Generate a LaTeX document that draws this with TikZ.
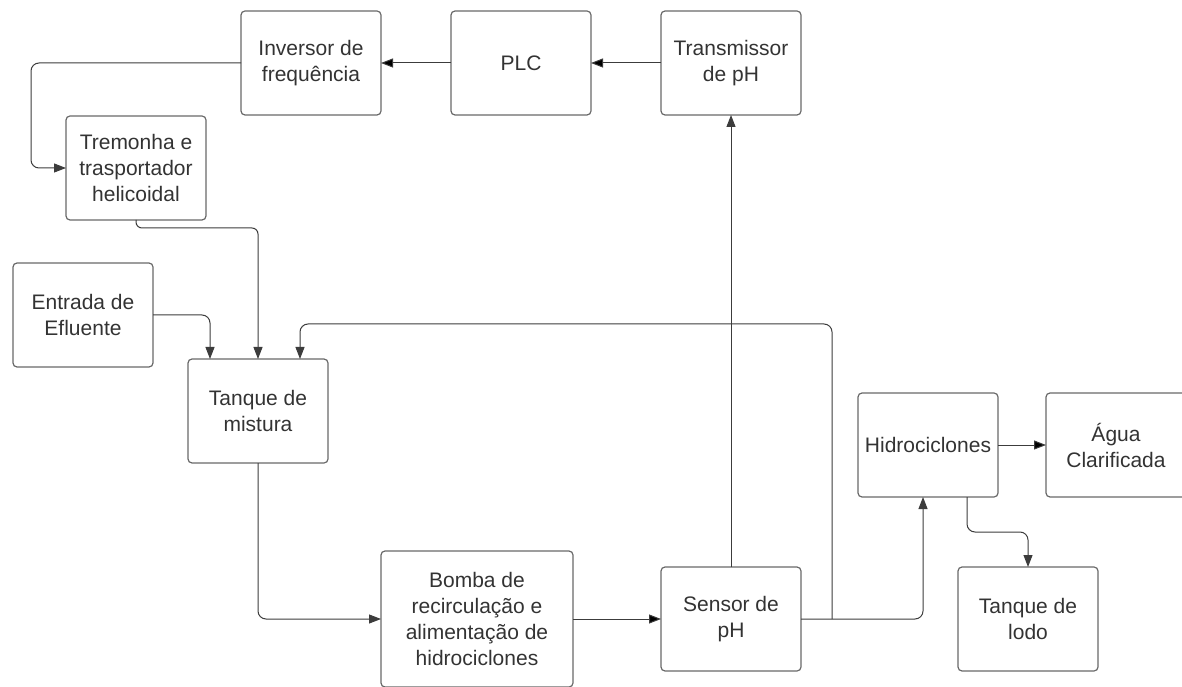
\documentclass[tikz,border=0pt]{standalone}
\usepackage{fontspec}
\setmainfont{Liberation Sans}
\usepackage{tikz}
\usetikzlibrary{positioning,arrows.meta}
\definecolor{boxgray}{RGB}{105,105,105}
\definecolor{linegray}{RGB}{60,60,60}
\definecolor{textgray}{RGB}{51,51,51}
\tikzstyle{block} = [rectangle, rounded corners=4pt, draw=boxgray, line width=1.2pt, fill=none, text=textgray, align=center, font=\fontsize{21}{26}\selectfont, minimum width=140pt, minimum height=104pt, inner sep=0pt, outer sep=0pt]
\tikzstyle{flow}  = [draw=linegray, line width=1pt, rounded corners=8pt, >={Triangle[length=12pt,width=9pt]}, ->]

\begin{document}
\begin{tikzpicture}[auto]
\useasboundingbox (0,0) rectangle (1182pt,686pt);

% blocks =============================
\node[block] (inv) at (311pt,623pt) {Inversor de\\frequência};
\node[block, right=70pt of inv] (plc) {PLC};
\node[block, right=70pt of plc] (trans) {Transmissor\\de pH};

\node[block, below left=1pt and 35pt of inv] (trem) {Tremonha e\\trasportador\\helicoidal};
\node[block, below=43pt of trem, xshift=-53pt] (ent) {Entrada de\\Efluente};
\node[block, right=35pt of ent, yshift=-96pt] (tanq) {Tanque de\\mistura};

\node[block, minimum width=192pt, minimum height=136pt, below right=88pt and 53pt of tanq] (bomba) {Bomba de\\recirculação e\\alimentação de\\hidrociclones};
\node[block, right=88pt of bomba] (sensor) {Sensor de\\pH};

\node[block, above right=70pt and 57pt of sensor] (hidro) {Hidrociclones};
\node[block, right=48pt of hidro] (agua) {Água\\Clarificada};
\node[block, below=70pt of hidro, xshift=100pt] (lodo) {Tanque de\\lodo};

\coordinate (split) at ([xshift=31pt]sensor.east);

% control loop
\path[flow] (trans) edge (plc);
\path[flow] (plc) edge (inv);
\draw[flow] (inv.west) -- ++(-210pt,0) |- (trem.west);
\draw[flow] (sensor.north) -- (trans.south);

% feed to mixing tank
\draw[flow, rounded corners=6pt] (trem.south) -- ++(0,-8pt) -| (tanq.north);
\draw[flow] (ent.east) -| ([xshift=-48pt]tanq.north);
\draw[flow] (split) -- ++(0,295pt) -| ([xshift=42pt]tanq.north);

% process line
\draw[flow] (tanq.south) |- (bomba.west);
\path[flow] (bomba) edge (sensor);
\draw[flow] (sensor.east) -| ([xshift=-5pt]hidro.south);
\path[flow] (hidro) edge (agua);
\draw[flow] ([xshift=39pt]hidro.south) -- ++(0,-35pt) -| (lodo.north);

\end{tikzpicture}
\end{document}
